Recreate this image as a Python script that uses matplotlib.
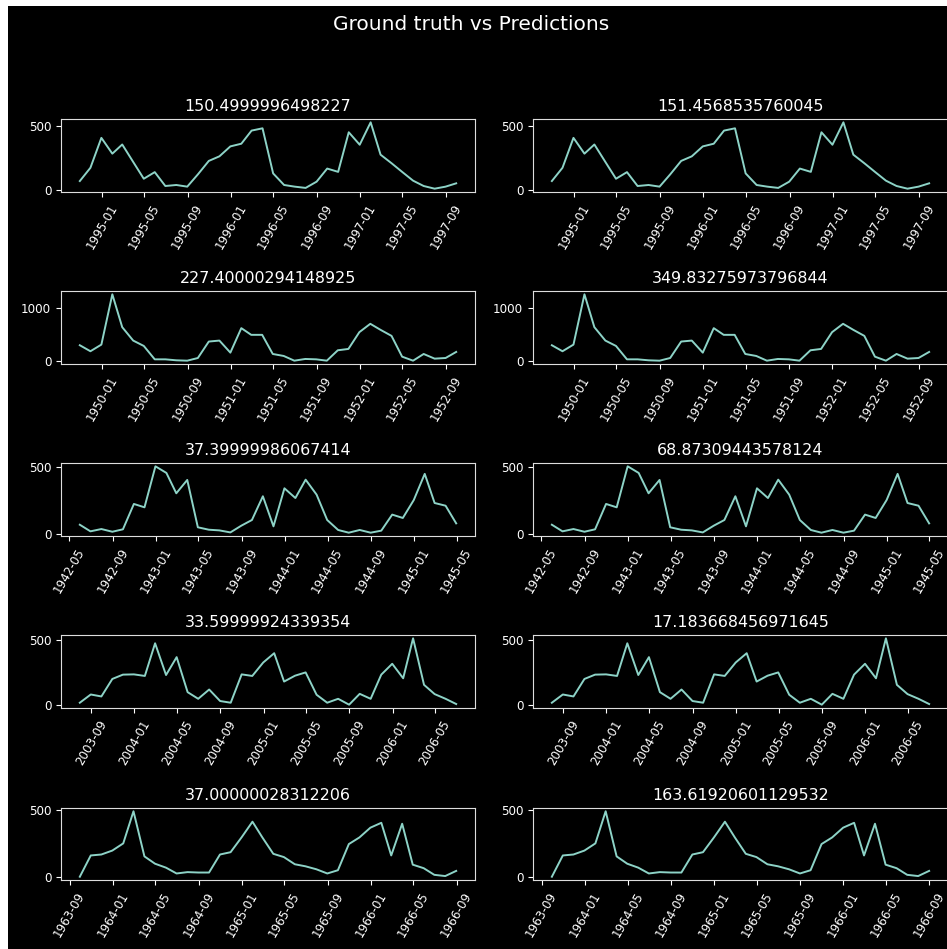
import matplotlib
matplotlib.use("Agg")
import matplotlib.pyplot as plt
import matplotlib.dates as mdates
from matplotlib.patches import Rectangle
from matplotlib.ticker import MaxNLocator
import pandas as pd

# series (monthly, month-end dates), same series drawn in both columns
starts = ["1994-10-31", "1949-10-31", "1942-05-31", "2003-07-31", "1963-09-30"]

serie_1 = [70, 174, 409, 285, 357, 220, 88, 140, 31, 39, 26, 122,
           228, 264, 342, 363, 466, 484, 130, 39, 26, 16, 65, 168,
           142, 453, 355, 531, 277, 210, 142, 73, 31, 10, 26, 52]
serie_2 = [300, 188, 312, 1250, 637, 387, 287, 37, 37, 19, 12, 62,
           369, 387, 162, 619, 494, 494, 137, 100, 12, 44, 37, 12,
           206, 231, 544, 700, 587, 475, 87, 12, 137, 50, 62, 175]
serie_3 = [69, 20, 37, 17, 35, 223, 198, 502, 453, 302, 401, 50,
           32, 27, 12, 62, 104, 280, 57, 339, 267, 403, 292, 104,
           30, 10, 30, 10, 25, 144, 119, 252, 446, 230, 210, 79]
serie_4 = [20, 83, 68, 202, 235, 237, 225, 475, 232, 369, 101, 50,
           121, 33, 20, 237, 225, 328, 399, 182, 227, 252, 81, 20,
           50, 5, 88, 50, 235, 318, 207, 513, 157, 86, 50, 10]
serie_5 = [5, 162, 169, 198, 251, 488, 155, 101, 72, 29, 39, 36,
           36, 169, 186, 295, 411, 295, 174, 150, 97, 82, 60, 29,
           53, 246, 295, 367, 403, 162, 396, 94, 68, 19, 10, 48]
serie = [serie_1, serie_2, serie_3, serie_4, serie_5]

titoli_gt = ["150.4999996498227", "227.40000294148925", "37.39999986067414",
             "33.59999924339354", "37.00000028312206"]
titoli_pred = ["151.4568535760045", "349.83275973796844", "68.87309443578124",
               "17.183668456971645", "163.61920601129532"]

plt.style.use("dark_background")
W, H = 947, 949
fig = plt.figure(figsize=(W / 100, H / 100), dpi=100, facecolor="white")
fig.add_artist(Rectangle((8 / W, 0), 1, (H - 6) / H, transform=fig.transFigure,
                         facecolor="black", edgecolor="none", zorder=-10))
fig.text(471 / W, 1 - 25 / H, "Ground truth vs Predictions", ha="center", va="center",
         fontsize=14.5, color="white")

righe = [(119, 192), (291, 364), (463, 536), (635, 708), (808, 880)]
colonne = [(61, 475), (533, 948)]

for i, (y0, y1) in enumerate(righe):
    date = pd.date_range(start=starts[i], periods=len(serie[i]), freq=pd.offsets.MonthEnd())
    for j, (x0, x1) in enumerate(colonne):
        ax = fig.add_axes([x0 / W, 1 - y1 / H, (x1 - x0) / W, (y1 - y0) / H])
        ax.set_facecolor("black")
        ax.plot(date, serie[i], color="#8dd3c7", lw=1.4)
        ax.set_title(titoli_gt[i] if j == 0 else titoli_pred[i], fontsize=11.4, color="white")
        ax.xaxis.set_major_locator(mdates.MonthLocator(bymonth=[1, 5, 9]))
        ax.xaxis.set_major_formatter(mdates.DateFormatter("%Y-%m"))
        ax.yaxis.set_major_locator(MaxNLocator(nbins=2, steps=[1, 5, 10]))
        ax.tick_params(labelsize=8.6, colors="white")
        for lbl in ax.get_xticklabels():
            lbl.set_rotation(60)
            lbl.set_ha("center")
        for s in ax.spines.values():
            s.set_color("#dddddd")
            s.set_linewidth(0.8)

fig.savefig("out.png", dpi=100, facecolor=fig.get_facecolor())
